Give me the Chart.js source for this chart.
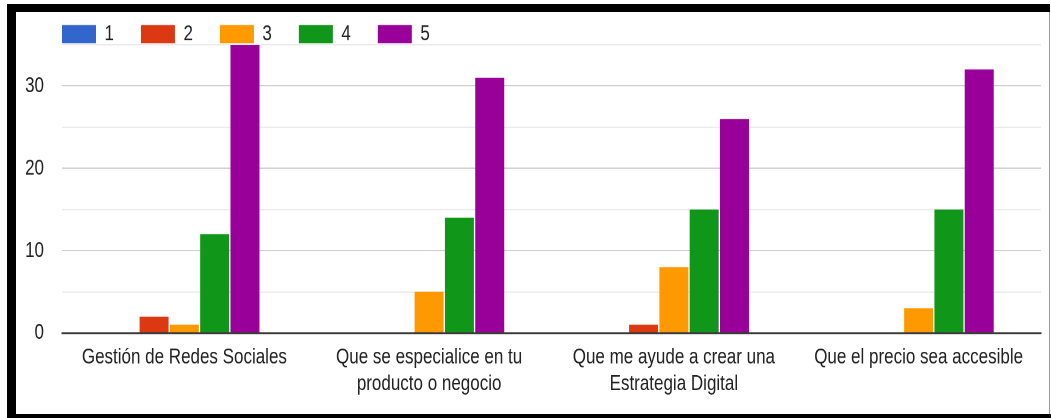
<!DOCTYPE html>
<html>
<head>
<meta charset="utf-8">
<script src="https://cdn.jsdelivr.net/npm/chart.js@4"></script>
<style>
  html, body { margin: 0; padding: 0; background: #fff; overflow: hidden; }
  body { width: 1051px; height: 418px; position: relative; }
  /* the chart is drawn on a shorter canvas and stretched vertically */
  #stage {
    position: absolute; left: 0; top: 0;
    width: 1051px; height: 322px;
    transform: scaleY(1.298137); transform-origin: 0 0;
  }
  .edge { position: absolute; background: #000; }
</style>
</head>
<body>
<div id="stage"><canvas id="chart" width="1051" height="322"></canvas></div>
<div class="edge" style="left:7px;top:4px;width:1043px;height:8px;"></div>
<div class="edge" style="left:7px;top:4px;width:9px;height:414px;"></div>
<div class="edge" style="left:7px;top:414px;width:1044px;height:4px;"></div>
<div class="edge" style="left:1049px;top:12px;width:1px;height:402px;background:#9a9a9a;"></div>
<script>
// Answers per option, split by rating (1 = lowest, 5 = highest)
const categories = [
  ["Gestión de Redes Sociales"],
  ["Que se especialice en tu", "producto o negocio"],
  ["Que me ayude a crear una", "Estrategia Digital"],
  ["Que el precio sea accesible"]
];
const seriesNames = ["1", "2", "3", "4", "5"];
const rating1 = [0, 0, 0, 0];
const rating2 = [2, 0, 1, 0];
const rating3 = [1, 5, 8, 3];
const rating4 = [12, 14, 15, 15];
const rating5 = [35, 31, 26, 32];
const yMax = 35;
const yStep = 5;
const yLabelEvery = 10;

const seriesValues = [rating1, rating2, rating3, rating4, rating5];
const seriesColors = ["#3366cc", "#dc3912", "#ff9900", "#109618", "#990099"];

// legend row starts a little to the right of the y-axis labels
const legendInset = {
  id: "legendInset",
  afterLayout(chart) {
    if (chart.legend) chart.legend.left = 35;
  }
};

Chart.defaults.font.family = "'Liberation Sans', Arial, sans-serif";
Chart.defaults.font.size = 17;
Chart.defaults.color = "#222";

new Chart(document.getElementById("chart"), {
  type: "bar",
  plugins: [legendInset],
  data: {
    labels: categories,
    datasets: seriesNames.map((name, i) => ({
      label: name,
      data: seriesValues[i],
      backgroundColor: seriesColors[i],
      borderWidth: 0,
      categoryPercentage: 0.619,
      barPercentage: 0.957
    }))
  },
  options: {
    responsive: false,
    animation: false,
    devicePixelRatio: 2,
    layout: { padding: { left: 16, right: 10, top: -9.24, bottom: 0 } },
    plugins: {
      tooltip: { enabled: false },
      legend: {
        position: "top",
        align: "start",
        maxHeight: 43.77,
        labels: {
          boxWidth: 34,
          boxHeight: 14,
          padding: 27,
          font: { size: 17 },
          color: "#222"
        }
      }
    },
    scales: {
      x: {
        grid: { display: false, drawTicks: false },
        border: { display: true, color: "#3a3a3a", width: 1.5 },
        ticks: {
          autoSkip: false,
          maxRotation: 0,
          minRotation: 0,
          padding: 8.5,
          font: { size: 17, lineHeight: 1.206 },
          color: "#222"
        },
        afterFit(scale) { scale.height = 65.5; }
      },
      y: {
        min: 0,
        max: yMax,
        grid: {
          drawTicks: false,
          lineWidth: 1,
          color: (ctx) => (ctx.tick && ctx.tick.value % yLabelEvery === 0) ? "#cfcfcf" : "#ebebeb"
        },
        border: { display: false },
        ticks: {
          stepSize: yStep,
          padding: 18,
          font: { size: 17 },
          color: "#222",
          callback: (v) => (v % yLabelEvery === 0 ? v : "")
        },
        afterFit(scale) { scale.width = 46; }
      }
    }
  }
});
</script>
</body>
</html>
